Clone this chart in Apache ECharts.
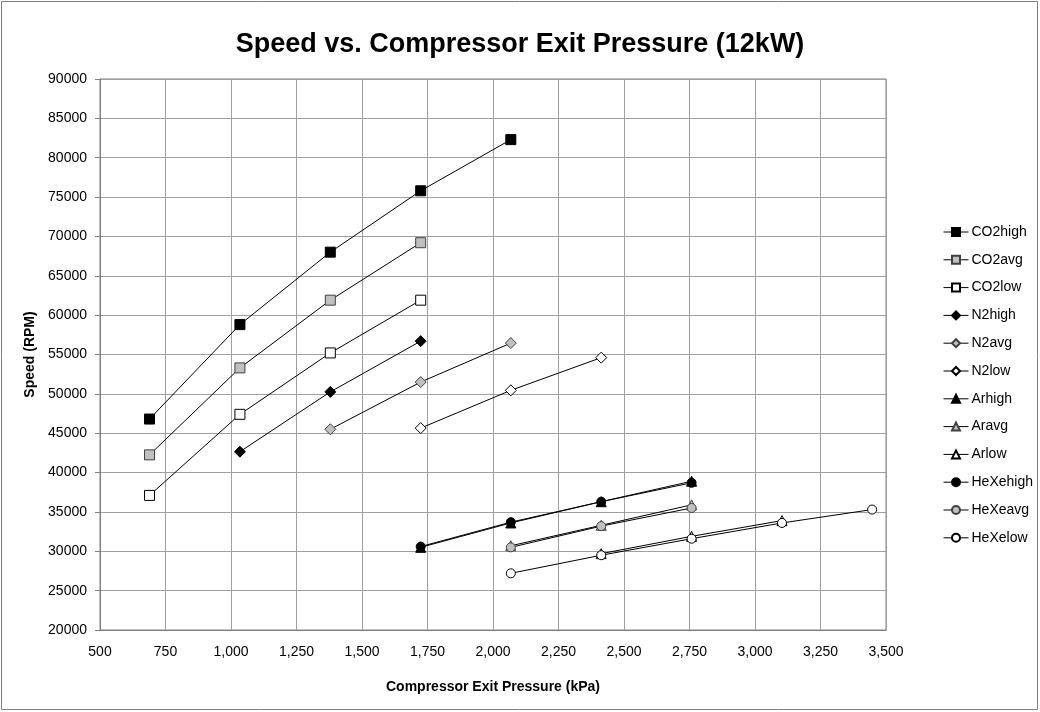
<!DOCTYPE html>
<html>
<head>
<meta charset="utf-8">
<script src="https://cdn.jsdelivr.net/npm/echarts@6/dist/echarts.min.js"></script>
<style>html,body{margin:0;padding:0;background:#fff}#c{width:1040px;height:712px}</style>
</head>
<body>
<div id="c"></div>
<script>
// Compressor exit pressure points (kPa) and speeds (RPM)
const pCO2high = [689, 1034, 1379, 1724, 2068];
const vCO2high = [46800, 58800, 68000, 75800, 82300];
const pCO2avg = [689, 1034, 1379, 1724];
const vCO2avg = [42250, 53300, 61900, 69200];
const pCO2low = [689, 1034, 1379, 1724];
const vCO2low = [37100, 47400, 55200, 61900];
const pN2high = [1034, 1379, 1724];
const vN2high = [42650, 50250, 56700];
const pN2avg = [1379, 1724, 2068];
const vN2avg = [45500, 51500, 56450];
const pN2low = [1724, 2068, 2413];
const vN2low = [45650, 50450, 54600];
const pArhigh = [1724, 2068, 2413, 2758];
const vArhigh = [30500, 33600, 36300, 38900];
const pAravg = [2068, 2413, 2758];
const vAravg = [30700, 33300, 35900];
const pArlow = [2413, 2758, 3103];
const vArlow = [29700, 31900, 33900];
const pHeXehigh = [1724, 2068, 2413, 2758];
const vHeXehigh = [30600, 33700, 36300, 38700];
const pHeXeavg = [2068, 2413, 2758];
const vHeXeavg = [30500, 33200, 35500];
const pHeXelow = [2068, 2413, 2758, 3103, 3447];
const vHeXelow = [27200, 29500, 31600, 33600, 35300];

const seriesNames = ['CO2high','CO2avg','CO2low','N2high','N2avg','N2low','Arhigh','Aravg','Arlow','HeXehigh','HeXeavg','HeXelow'];
const xs = [pCO2high,pCO2avg,pCO2low,pN2high,pN2avg,pN2low,pArhigh,pAravg,pArlow,pHeXehigh,pHeXeavg,pHeXelow];
const ys = [vCO2high,vCO2avg,vCO2low,vN2high,vN2avg,vN2low,vArhigh,vAravg,vArlow,vHeXehigh,vHeXeavg,vHeXelow];

const symbols = ['rect','rect','rect','diamond','diamond','diamond','triangle','triangle','triangle','circle','circle','circle'];
const fills = ['#000','#c0c0c0','#fff'];
const borders = ['#000','#404040','#000'];
const sizes = {rect: 10, diamond: 11, triangle: 10, circle: 9};

const FONT = "'Liberation Sans', Arial, sans-serif";

const series = seriesNames.map((name, i) => ({
  name: name,
  type: 'line',
  data: xs[i].map((x, j) => [x, ys[i][j]]),
  symbol: symbols[i],
  symbolSize: sizes[symbols[i]],
  showAllSymbol: true,
  lineStyle: {color: '#000', width: 1},
  itemStyle: {color: fills[i % 3], borderColor: borders[i % 3], borderWidth: 1},
  emphasis: {disabled: true},
  animation: false,
  z: 2
}));

const chart = echarts.init(document.getElementById('c'), null, {renderer: 'canvas'});
chart.setOption({
  backgroundColor: '#fff',
  animation: false,
  textStyle: {fontFamily: FONT},
  title: {
    text: 'Speed vs. Compressor Exit Pressure (12kW)',
    left: 'center', top: 26,
    textStyle: {fontFamily: FONT, fontSize: 27, fontWeight: 'bold', color: '#000'}
  },
  graphic: [{
    type: 'rect', shape: {x: 1.5, y: 1.5, width: 1036, height: 708},
    style: {fill: null, stroke: '#808080', lineWidth: 1}, silent: true
  }],
  grid: {left: 100, right: 154, top: 79, bottom: 82, show: true, borderColor: '#808080', borderWidth: 1},
  legend: {
    orient: 'vertical',
    left: 938, top: 220,
    itemWidth: 25, itemHeight: 10, itemGap: 13.8,
    lineStyle: {width: 1, color: '#000'},
    textStyle: {fontFamily: FONT, fontSize: 14, color: '#000', padding: [0,0,0,-2]},
    data: seriesNames
  },
  xAxis: {
    type: 'value', min: 500, max: 3500, interval: 250,
    name: 'Compressor Exit Pressure (kPa)', nameLocation: 'middle', nameGap: 50,
    nameTextStyle: {fontFamily: FONT, fontSize: 14, fontWeight: 'bold', color: '#000'},
    axisLine: {show: true, lineStyle: {color: '#808080'}},
    axisTick: {show: false},
    axisLabel: {fontFamily: FONT, fontSize: 14, color: '#000', margin: 15,
      formatter: v => v.toLocaleString('en-US')},
    splitLine: {show: true, lineStyle: {color: '#a0a0a0', width: 1}}
  },
  yAxis: {
    type: 'value', min: 20000, max: 90000, interval: 5000,
    name: 'Speed (RPM)', nameLocation: 'middle', nameGap: 56,
    nameTextStyle: {fontFamily: FONT, fontSize: 14, fontWeight: 'bold', color: '#000'},
    axisLine: {show: true, lineStyle: {color: '#808080'}},
    axisTick: {show: true, length: 5, lineStyle: {color: '#808080'}},
    axisLabel: {fontFamily: FONT, fontSize: 14, color: '#000', margin: 13,
      formatter: v => String(v)},
    splitLine: {show: true, lineStyle: {color: '#a0a0a0', width: 1}}
  },
  series: series
});
</script>
</body>
</html>
